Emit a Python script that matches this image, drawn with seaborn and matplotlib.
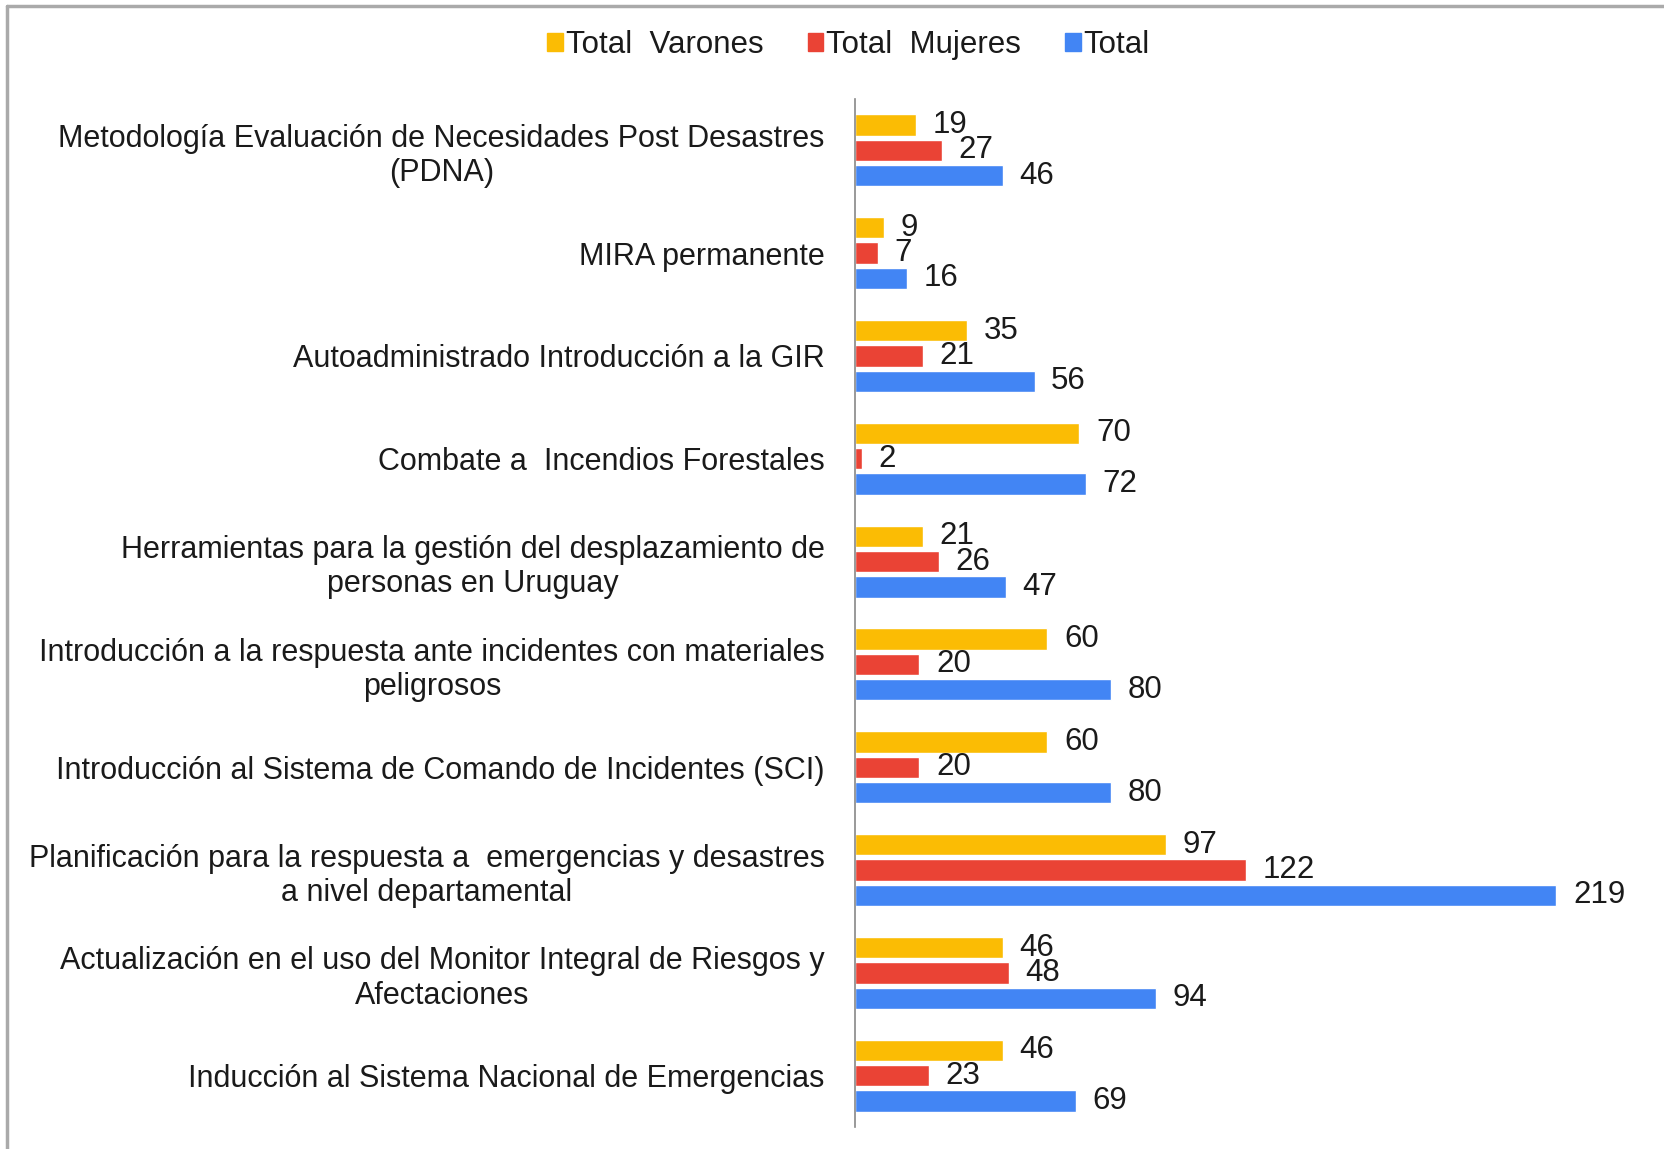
import matplotlib
matplotlib.use("Agg")
import matplotlib.pyplot as plt
import seaborn as sns
import pandas as pd
from matplotlib.lines import Line2D

cursos = [
    "Metodología Evaluación de Necesidades Post Desastres\n(PDNA)",
    "MIRA permanente",
    "Autoadministrado Introducción a la GIR",
    "Combate a  Incendios Forestales",
    "Herramientas para la gestión del desplazamiento de\npersonas en Uruguay",
    "Introducción a la respuesta ante incidentes con materiales\npeligrosos",
    "Introducción al Sistema de Comando de Incidentes (SCI)",
    "Planificación para la respuesta a  emergencias y desastres\na nivel departamental",
    "Actualización en el uso del Monitor Integral de Riesgos y\nAfectaciones",
    "Inducción al Sistema Nacional de Emergencias",
]
varones = [19, 9, 35, 70, 21, 60, 60, 97, 46, 46]
mujeres = [27, 7, 21, 2, 26, 20, 20, 122, 48, 23]
total = [46, 16, 56, 72, 47, 80, 80, 219, 94, 69]

series = ["Total  Varones", "Total  Mujeres", "Total"]
colores = ["#FBBC04", "#EA4335", "#4285F4"]

df = pd.DataFrame({
    "curso": cursos * 3,
    "serie": [series[0]] * 10 + [series[1]] * 10 + [series[2]] * 10,
    "valor": varones + mujeres + total,
})

sns.set_style("white")
plt.rcParams["font.family"] = ["Liberation Sans", "DejaVu Sans"]

fig = plt.figure(figsize=(16.64, 11.49), dpi=100)
ax = fig.add_axes([0.514, 0.019, 0.452, 0.895])

sns.barplot(data=df, y="curso", x="valor", hue="serie", order=cursos,
            hue_order=series, palette=colores, orient="h", width=0.74,
            gap=0.16, saturation=1, ax=ax, legend=False)

for cont in ax.containers:
    ax.bar_label(cont, padding=12, fontsize=22.5, color="#1a1a1a")

ax.set_xlim(0, 235)
ax.set_ylim(9.5, -0.5)
ax.set_xlabel("")
ax.set_ylabel("")
ax.set_xticks([])
ax.tick_params(axis="y", length=0, pad=22, labelsize=22, labelcolor="#1a1a1a")
for lbl in ax.get_yticklabels():
    lbl.set_multialignment("center")
    lbl.set_linespacing(1.18)
for s in ["top", "right", "bottom"]:
    ax.spines[s].set_visible(False)
ax.spines["left"].set_color("#888888")
ax.spines["left"].set_linewidth(1.2)

handles = [plt.Rectangle((0, 0), 1, 1, color=c) for c in colores]
fig.legend(handles, series, loc="center", bbox_to_anchor=(0.51, 0.961), ncol=3,
           frameon=False, fontsize=22.5, handlelength=0.5, handleheight=0.5,
           handletextpad=0.1, columnspacing=1.4, labelcolor="#1a1a1a")

# marco gris arriba e izquierda
fig.add_artist(Line2D([0.004, 1], [0.995, 0.995], color="#aaaaaa", lw=2.5,
                      transform=fig.transFigure))
fig.add_artist(Line2D([0.004, 0.004], [0, 0.995], color="#aaaaaa", lw=2.5,
                      transform=fig.transFigure))

fig.savefig("out.png", dpi=100)
